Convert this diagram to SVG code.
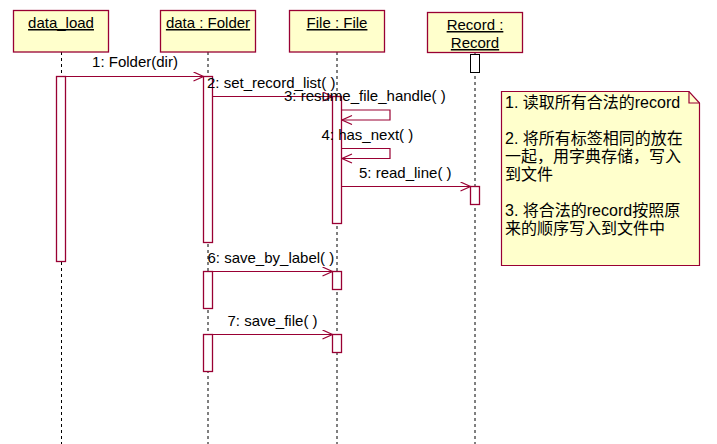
<svg xmlns="http://www.w3.org/2000/svg" width="717" height="444" viewBox="0 0 717 444">
<defs>
<style>
.box{fill:#ffffcc;stroke:#990033;stroke-width:1.3}
.act{fill:#ffffff;stroke:#990033;stroke-width:1.3}
.life{stroke:#000;stroke-width:1;stroke-dasharray:3,3;fill:none}
.msg{stroke:#990033;stroke-width:1.2;fill:none}
.t{font-family:"Liberation Sans",Arial,sans-serif;font-size:15px;fill:#000}
.c{text-anchor:middle}
.u{text-decoration:underline}
.n{font-family:"Liberation Sans","Noto Sans CJK SC",sans-serif;font-size:16px;fill:#000}
</style>
<marker id="arr" markerWidth="12" markerHeight="12" refX="11" refY="5" orient="auto" markerUnits="userSpaceOnUse">
<path d="M1,0.5 L11,5 L1,9.5" fill="none" stroke="#990033" stroke-width="1.2"/>
</marker>
</defs>
<rect width="717" height="444" fill="#ffffff"/>

<g id="lifelines">
<line class="life" x1="61.5" y1="52" x2="61.5" y2="444"/>
<line class="life" x1="208" y1="52" x2="208" y2="444"/>
<line class="life" x1="337" y1="52" x2="337" y2="444"/>
<line class="life" x1="475" y1="52" x2="475" y2="444"/>
</g>

<g id="node-data_load">
<rect class="box" x="13.5" y="10.5" width="95" height="41.5"/>
<text class="t c u" x="61" y="28">data_load</text>
<rect class="act" x="56.5" y="76.5" width="9" height="185"/>
</g>

<g id="node-data_folder">
<rect class="box" x="160.5" y="10.5" width="95" height="41.5"/>
<text class="t c u" x="208" y="28">data : Folder</text>
<rect class="act" x="203.5" y="76.5" width="9" height="166"/>
<rect class="act" x="203.5" y="271.5" width="9" height="37"/>
<rect class="act" x="203.5" y="334.5" width="9" height="37"/>
</g>

<g id="node-file_file">
<rect class="box" x="289.5" y="10.5" width="95" height="41.5"/>
<text class="t c u" x="337" y="28">File : File</text>
<rect class="act" x="332.5" y="96.5" width="9" height="127"/>
<rect class="act" x="332.5" y="271.5" width="9" height="18"/>
<rect class="act" x="332.5" y="334.5" width="9" height="18"/>
</g>

<g id="node-record">
<rect class="box" x="427.5" y="12.5" width="95" height="40"/>
<text class="t c u" x="475" y="30">Record :</text>
<text class="t c u" x="475" y="48">Record</text>
<rect x="470.5" y="54.5" width="9" height="18" fill="#ffffff" stroke="#000" stroke-width="1"/>
<rect class="act" x="470.5" y="186.5" width="9" height="18"/>
</g>

<g id="connectors">
<line class="msg" x1="65.5" y1="76.5" x2="203.5" y2="76.5" marker-end="url(#arr)"/>
<text class="t c" x="135" y="67">1: Folder(dir)</text>

<line class="msg" x1="212.5" y1="96.5" x2="332.5" y2="96.5" marker-end="url(#arr)"/>
<text class="t" x="207" y="88">2: set_record_list( )</text>

<polyline class="msg" points="341.5,110 390,110 390,120 342,120" marker-end="url(#arr)"/>
<text class="t" x="284" y="101">3: resume_file_handle( )</text>

<polyline class="msg" points="341.5,148.5 390,148.5 390,158.5 342,158.5" marker-end="url(#arr)"/>
<text class="t" x="321.5" y="140">4: has_next( )</text>

<line class="msg" x1="341.5" y1="186.5" x2="470.5" y2="186.5" marker-end="url(#arr)"/>
<text class="t" x="359" y="178">5: read_line( )</text>

<line class="msg" x1="212.5" y1="271.5" x2="332.5" y2="271.5" marker-end="url(#arr)"/>
<text class="t" x="207.5" y="262.5">6: save_by_label( )</text>

<line class="msg" x1="212.5" y1="334.5" x2="332.5" y2="334.5" marker-end="url(#arr)"/>
<text class="t" x="227.5" y="326">7: save_file( )</text>
</g>

<g id="note">
<path d="M501.5,91.5 L689,91.5 L699.5,103 L699.5,265.5 L501.5,265.5 Z" fill="#ffffcc" stroke="#990033" stroke-width="1.2"/>
<path d="M689,91.5 L689,103 L699.5,103" fill="none" stroke="#990033" stroke-width="1.2"/>
<text class="n" x="505" y="108">1. 读取所有合法的record</text>
<text class="n" x="505" y="144">2. 将所有标签相同的放在</text>
<text class="n" x="505" y="162">一起，用字典存储，写入</text>
<text class="n" x="505" y="180">到文件</text>
<text class="n" x="505" y="216">3. 将合法的record按照原</text>
<text class="n" x="505" y="234">来的顺序写入到文件中</text>
</g>
</svg>
